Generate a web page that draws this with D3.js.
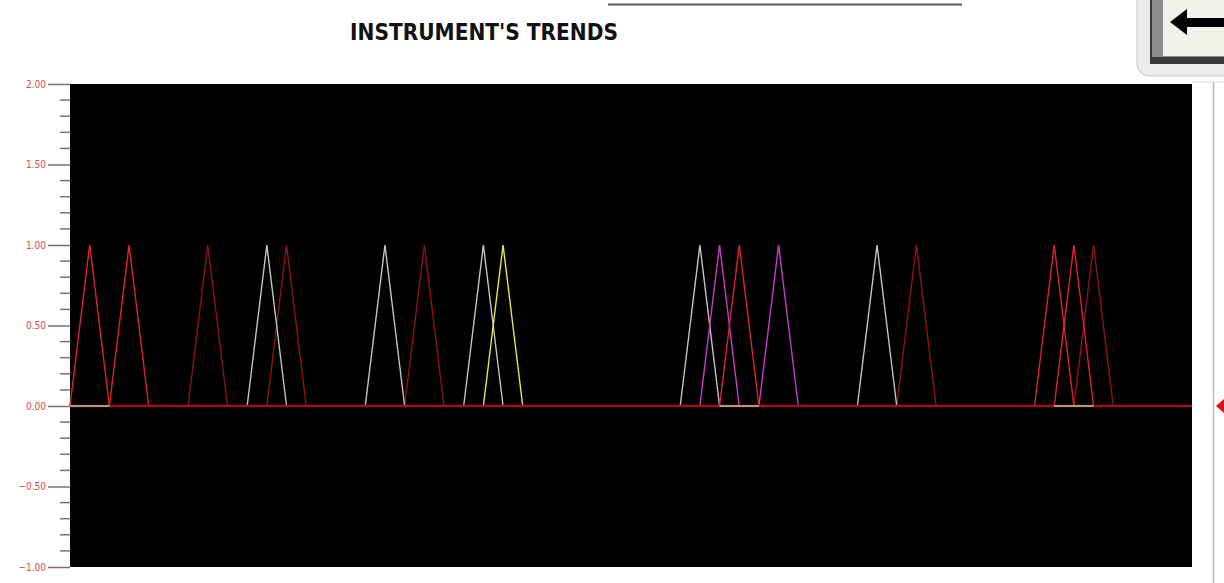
<!DOCTYPE html>
<html>
<head>
<meta charset="utf-8">
<script src="https://cdn.jsdelivr.net/npm/d3@7"></script>
<style>
  body { margin: 0; background: #fff; }
</style>
</head>
<body>
<div id="chart"></div>
<script>
// sample index of each pulse (value 1 at the index, 0 on both neighbours)
var sampleCount = 58;
var redPulses = [1, 3, 34, 50, 51];
var darkRedPulses = [7, 11, 18, 43, 52];
var grayPulses = [10, 16, 21, 32, 41];
var yellowPulses = [22];
var magentaPulses = [33, 36];
// flat zero segments drawn in pale green
var greenSegments = [[0, 2], [33, 35], [50, 52]];
var yTicks = [-1, -0.5, 0, 0.5, 1, 1.5, 2];

var width = 1224, height = 583;
var margin = { top: 84, right: 32, bottom: 16, left: 70 };

var svg = d3.select("#chart")
    .append("svg")
    .attr("width", width)
    .attr("height", height);

// title
svg.append("text")
    .attr("x", 350)
    .attr("y", 40)
    .attr("textLength", 268)
    .attr("lengthAdjust", "spacingAndGlyphs")
    .style("font-family", "'DejaVu Sans Condensed', 'DejaVu Sans', sans-serif")
    .style("font-weight", "bold")
    .style("font-size", "23px")
    .style("fill", "#111")
    .text("INSTRUMENT'S TRENDS");

// thin line at the top edge
svg.append("line")
    .attr("x1", 608).attr("x2", 962)
    .attr("y1", 4.5).attr("y2", 4.5)
    .style("stroke", "#555")
    .style("stroke-width", 2);

// back button
var btn = svg.append("g");
btn.append("rect")
    .attr("x", 1137).attr("y", -14)
    .attr("width", 100).attr("height", 90)
    .attr("rx", 12)
    .style("fill", "#ececec")
    .style("stroke", "#c8c8c8");
btn.append("rect")
    .attr("x", 1150).attr("y", -8)
    .attr("width", 80).attr("height", 72)
    .style("fill", "#3a3a3a");
btn.append("rect")
    .attr("x", 1152).attr("y", -8)
    .attr("width", 80).attr("height", 65)
    .style("fill", "#8c8c8c");
btn.append("rect")
    .attr("x", 1163).attr("y", -8)
    .attr("width", 70).attr("height", 64)
    .style("fill", "#f2f1ea");
btn.append("path")
    .attr("d", "M1170,22 L1187,9 L1187,18 L1224,18 L1224,27 L1187,27 L1187,35 Z")
    .style("fill", "#000");

var plotW = width - margin.left - margin.right;
var plotH = height - margin.top - margin.bottom;

var x = d3.scaleLinear()
    .domain([0, sampleCount - 1])
    .range([margin.left, margin.left + plotW]);

var y = d3.scaleLinear()
    .domain([-1, 2])
    .range([margin.top + plotH, margin.top]);

svg.append("rect")
    .attr("x", margin.left)
    .attr("y", margin.top)
    .attr("width", plotW)
    .attr("height", plotH)
    .style("fill", "#000");

// y axis
var yAxis = svg.append("g")
    .attr("transform", "translate(" + margin.left + ",0)")
    .call(d3.axisLeft(y).tickValues(yTicks).tickFormat(d3.format(".2f")).tickSize(22).tickSizeOuter(0));
yAxis.select(".domain").remove();
yAxis.selectAll(".tick line").style("stroke", "#8a6a6a").style("stroke-width", 1.5);
yAxis.selectAll(".tick text")
    .attr("x", -24)
    .style("font-family", "'DejaVu Sans Condensed', sans-serif")
    .style("font-size", "10px")
    .style("fill", "#d84a4a");

var minor = d3.range(-1, 2.001, 0.1).filter(v => Math.abs(v * 2 - Math.round(v * 2)) > 0.01);
svg.append("g").selectAll("line")
    .data(minor)
    .enter()
    .append("line")
    .attr("x1", margin.left - 10)
    .attr("x2", margin.left)
    .attr("y1", d => y(d))
    .attr("y2", d => y(d))
    .style("stroke", "#8a6a6a")
    .style("stroke-width", 1.5);

function pulseSeries(peaks) {
    return peaks.map(p => [[p - 1, 0], [p, 1], [p + 1, 0]]);
}

var line = d3.line()
    .x(d => x(d[0]))
    .y(d => y(d[1]));

var series = [
    { color: "#8c1414", peaks: darkRedPulses },
    { color: "#c4c4c4", peaks: grayPulses },
    { color: "#e8e84a", peaks: yellowPulses },
    { color: "#c83cc8", peaks: magentaPulses },
    { color: "#dc2424", peaks: redPulses }
];

var plot = svg.append("g");

series.forEach(s => {
    plot.selectAll(null)
        .data(pulseSeries(s.peaks))
        .enter()
        .append("path")
        .attr("d", line)
        .style("fill", "none")
        .style("stroke", s.color)
        .style("stroke-width", 1.4);
});

// base line at zero
plot.append("path")
    .attr("d", line([[0, 0], [sampleCount - 1, 0]]))
    .style("stroke", "#a0101c")
    .style("stroke-width", 2.5);

plot.selectAll(null)
    .data(greenSegments)
    .enter()
    .append("path")
    .attr("d", d => line([[d[0], 0], [d[1], 0]]))
    .style("stroke", "#b8c890")
    .style("stroke-width", 1.5);

// right side panel edge and marker
svg.append("line")
    .attr("x1", 1213.5).attr("x2", 1213.5)
    .attr("y1", 82).attr("y2", height)
    .style("stroke", "#bbb")
    .style("stroke-width", 1.5);
svg.append("line")
    .attr("x1", 1192).attr("x2", 1224)
    .attr("y1", 82).attr("y2", 82)
    .style("stroke", "#ddd");
svg.append("path")
    .attr("d", "M1216," + y(0) + " L1224," + (y(0) - 7) + " L1224," + (y(0) + 7) + " Z")
    .style("fill", "#e01010");
</script>
</body>
</html>
